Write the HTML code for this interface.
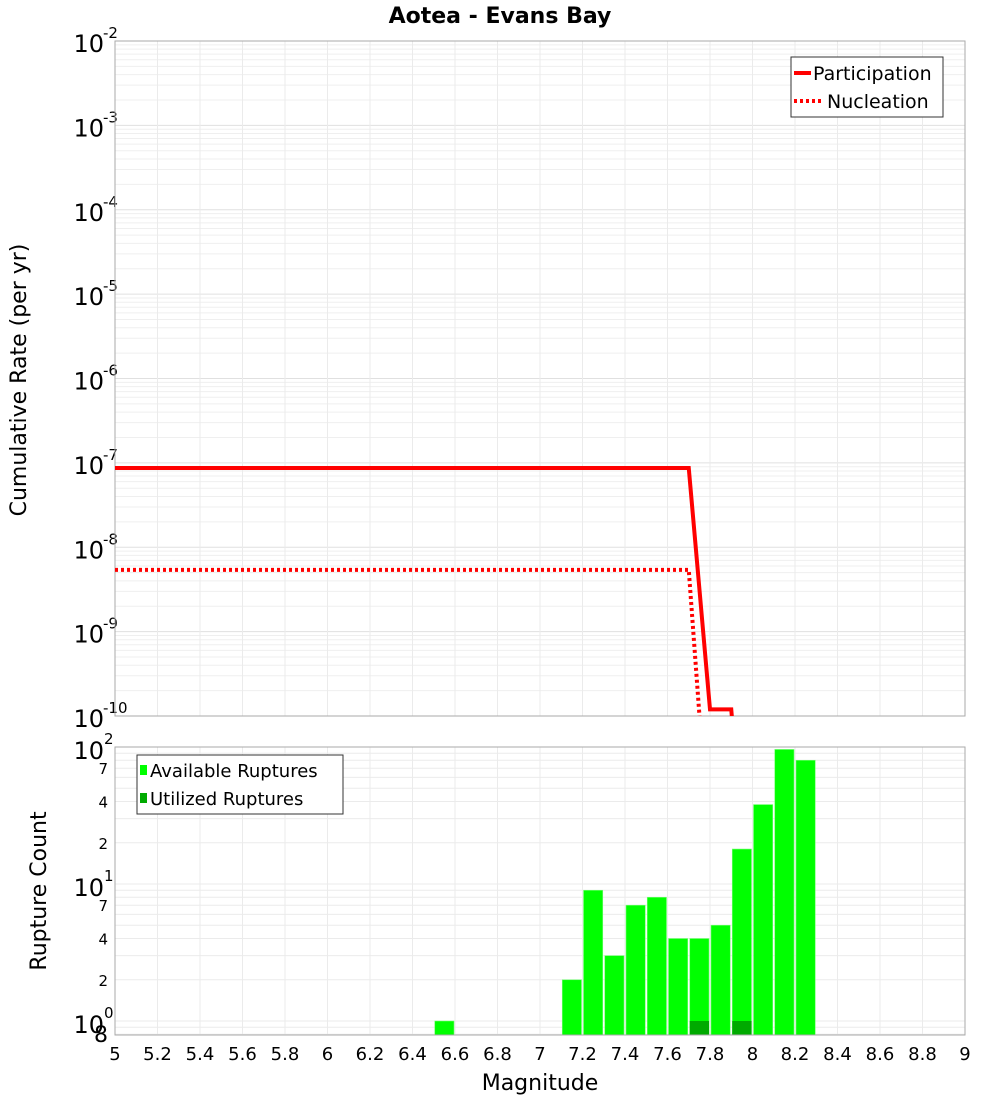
<!DOCTYPE html>
<html><head><meta charset="utf-8"><style>
body{margin:0;background:#fff;}
svg text{font-family:"DejaVu Sans","Liberation Sans",sans-serif;}
</style></head><body>
<svg id="chart" width="1000" height="1100" xmlns="http://www.w3.org/2000/svg">
<text x="500" y="23" text-anchor="middle" font-size="22" font-weight="bold">Aotea - Evans Bay</text>
<g id="topg"></g>
<g id="botg"></g>
<text transform="translate(26,380) rotate(-90)" text-anchor="middle" font-size="22">Cumulative Rate (per yr)</text>
<text transform="translate(46,891) rotate(-90)" text-anchor="middle" font-size="22">Rupture Count</text>
<text x="540" y="1090" text-anchor="middle" font-size="22">Magnitude</text>
</svg>
<script>
const partMags=[5.0,7.7,7.8,7.9,8.0];
const partRates=[8.7e-8,8.7e-8,1.2e-10,1.2e-10,1e-13];
const nuclMags=[5.0,7.7,7.8];
const nuclRates=[5.4e-9,5.4e-9,2e-12];
const binCenters=[6.55,7.15,7.25,7.35,7.45,7.55,7.65,7.75,7.85,7.95,8.05,8.15,8.25];
const availCounts=[1,2,9,3,7,8,4,4,5,18,38,96,80];
const usedCenters=[7.75,7.95];
const usedCounts=[1,1];
const xTicks=[5,5.2,5.4,5.6,5.8,6,6.2,6.4,6.6,6.8,7,7.2,7.4,7.6,7.8,8,8.2,8.4,8.6,8.8,9];

const NS="http://www.w3.org/2000/svg";
function el(p,t,a){const e=document.createElementNS(NS,t);for(const k in a)e.setAttribute(k,a[k]);p.appendChild(e);return e;}
const X0=115,X1=965;
const x=m=>X0+(m-5)/4*(X1-X0);
const T0=41,T1=716; const yT=v=>T0+(-2-Math.log10(v))/8*(T1-T0);
const B0=747,B1=1035; const yB=v=>1021-Math.log10(v)*137;
const topG=document.getElementById('topg'),botG=document.getElementById('botg');
for(let d=-10;d<-2;d++)for(let k=1;k<10;k++){const yy=yT(k*Math.pow(10,d));
 const g=el(topG,'line',{x1:X0,x2:X1,y1:yy,y2:yy,stroke:k==1?'#e0e0e0':'#efefef','stroke-width':1});
 
 }
xTicks.forEach(m=>{const g=el(topG,'line',{x1:x(m),x2:x(m),y1:T0,y2:T1,stroke:'#ebebeb'});
 
 
 const h=el(botG,'line',{x1:x(m),x2:x(m),y1:B0,y2:B1,stroke:'#ebebeb'});
 
 });
for(let d=-10;d<=-2;d++){const yy=yT(Math.pow(10,d));
 const t=el(topG,'text',{x:104,y:yy+11,'text-anchor':'end','font-size':24});t.textContent='10';
 
 
 const s=el(topG,'text',{x:103,y:yy-3,'font-size':15});s.textContent=String(d);
 
 }
const tf=el(topG,'rect',{x:X0,y:T0,width:X1-X0,height:T1-T0,fill:'none',stroke:'#aaa'});


const clip=el(topG,'clipPath',{id:'tc'});el(clip,'rect',{x:X0,y:T0,width:X1-X0,height:T1-T0});
function line(mags,vals,dash,name){const pts=mags.map((m,i)=>x(m)+','+yT(vals[i])).join(' ');
 const p=el(topG,'polyline',{points:pts,fill:'none',stroke:'#f00','stroke-width':4,'clip-path':'url(#tc)'});
 if(dash)p.setAttribute('stroke-dasharray','3,3');
 
 }
line(partMags,partRates,false,'participation-line');
line(nuclMags,nuclRates,true,'nucleation-line');
const lg=el(topG,'g',{});


el(lg,'rect',{x:791,y:57,width:152,height:60,fill:'#fff',stroke:'#333'});
el(lg,'line',{x1:794,x2:811,y1:73,y2:73,stroke:'#f00','stroke-width':4});
el(lg,'line',{x1:794,x2:822,y1:101,y2:101,stroke:'#f00','stroke-width':4,'stroke-dasharray':'3,3'});
let tt=el(lg,'text',{x:813,y:80,'font-size':19});tt.textContent='Participation';
tt=el(lg,'text',{x:827,y:108,'font-size':19});tt.textContent='Nucleation';
for(let d=-1;d<2;d++)for(let k=1;k<10;k++){const v=k*Math.pow(10,d);const yy=yB(v);if(yy>B1||yy<B0)continue;
 const g=el(botG,'line',{x1:X0,x2:X1,y1:yy,y2:yy,stroke:'#ebebeb'});
 
 }
[[1,'10','0'],[10,'10','1'],[100,'10','2']].forEach(([v,b,e])=>{const yy=yB(v);
 let a=el(botG,'text',{x:104,y:yy+12,'text-anchor':'end','font-size':24});a.textContent=b;
 
 
 a=el(botG,'text',{x:104,y:yy-3,'font-size':15});a.textContent=e;
 
 });
[2,4,7,20,40,70].forEach(v=>{const a=el(botG,'text',{x:108,y:yB(v)+6,'text-anchor':'end','font-size':15});a.textContent=String(v).charAt(0);
 
 });
const e8=el(botG,'text',{x:108,y:1042,'text-anchor':'end','font-size':22});e8.textContent='8';


const bw=(x(5.1)-x(5));
binCenters.forEach((c,i)=>{const yy=yB(availCounts[i]);
 const r=el(botG,'rect',{x:x(c)-bw/2+1,y:yy,width:bw-2,height:B1-yy,fill:'#00ff00',stroke:'#7f7','stroke-width':0.6});
 
 });
usedCenters.forEach((c,i)=>{const yy=yB(usedCounts[i]);
 const r=el(botG,'rect',{x:x(c)-bw/2+1,y:yy,width:bw-2,height:B1-yy,fill:'#00aa00'});
 
 });
const bf=el(botG,'rect',{x:X0,y:B0,width:X1-X0,height:B1-B0,fill:'none',stroke:'#aaa'});


xTicks.forEach(m=>{const a=el(botG,'text',{x:x(m),y:1060,'text-anchor':'middle','font-size':18});a.textContent=String(m);
 
 });
const bl=el(botG,'g',{});


el(bl,'rect',{x:137,y:755,width:206,height:59,fill:'#fff',stroke:'#333'});
el(bl,'rect',{x:140,y:765,width:7,height:10,fill:'#00ff00'});
el(bl,'rect',{x:140,y:793,width:7,height:10,fill:'#00aa00'});
tt=el(bl,'text',{x:150,y:777,'font-size':18});tt.textContent='Available Ruptures';
tt=el(bl,'text',{x:150,y:805,'font-size':18});tt.textContent='Utilized Ruptures';
</script>
</body></html>
